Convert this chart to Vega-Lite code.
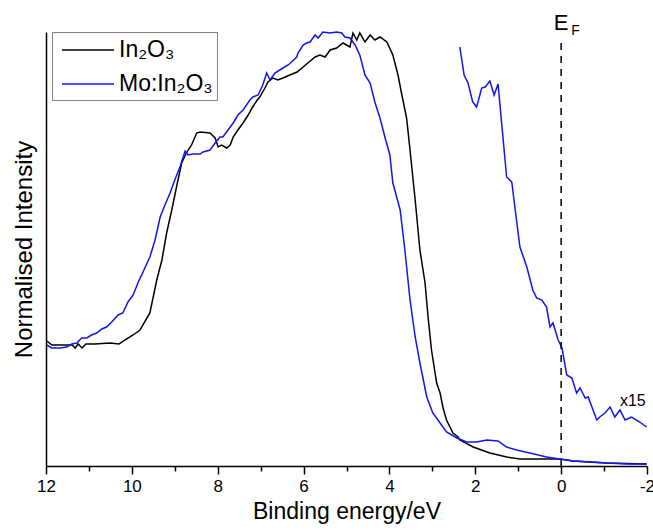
{
  "$schema": "https://vega.github.io/schema/vega-lite/v6.json",
  "width": 601,
  "height": 434,
  "autosize": {"type": "none"},
  "padding": {"left": 46, "top": 32, "right": 6, "bottom": 64},
  "background": "white",
  "config": {
    "view": {"stroke": null},
    "font": "Liberation Sans",
    "axis": {"grid": false, "labelFont": "Liberation Sans", "titleFont": "Liberation Sans", "labelColor": "black", "titleColor": "black", "titleFontWeight": "normal", "domainColor": "black", "domainWidth": 1.5, "tickColor": "black", "tickWidth": 1.5},
    "legend": {
      "orient": "none", "legendX": 6, "legendY": 0, "title": null,
      "symbolType": "M-2,0H2", "symbolSize": 676, "symbolStrokeWidth": 1.5,
      "labelFont": "Liberation Sans", "labelFontSize": 23, "labelColor": "black",
      "padding": 4, "symbolOffset": 18, "labelOffset": 17, "rowPadding": 8,
      "strokeColor": "#808080", "fillColor": "white"
    }
  },
  "datasets": {
    "spectra": [
      {"sample":"In₂O₃","trace":"main","energy":11.98,"intensity":125},
      {"sample":"In₂O₃","trace":"main","energy":11.86,"intensity":121},
      {"sample":"In₂O₃","trace":"main","energy":11.67,"intensity":121},
      {"sample":"In₂O₃","trace":"main","energy":11.39,"intensity":121},
      {"sample":"In₂O₃","trace":"main","energy":11.32,"intensity":118},
      {"sample":"In₂O₃","trace":"main","energy":11.25,"intensity":122},
      {"sample":"In₂O₃","trace":"main","energy":11.16,"intensity":118},
      {"sample":"In₂O₃","trace":"main","energy":11.07,"intensity":122},
      {"sample":"In₂O₃","trace":"main","energy":10.86,"intensity":122},
      {"sample":"In₂O₃","trace":"main","energy":10.51,"intensity":123},
      {"sample":"In₂O₃","trace":"main","energy":10.30,"intensity":122},
      {"sample":"In₂O₃","trace":"main","energy":10.16,"intensity":126},
      {"sample":"In₂O₃","trace":"main","energy":9.97,"intensity":131},
      {"sample":"In₂O₃","trace":"main","energy":9.81,"intensity":136},
      {"sample":"In₂O₃","trace":"main","energy":9.58,"intensity":153},
      {"sample":"In₂O₃","trace":"main","energy":9.42,"intensity":186},
      {"sample":"In₂O₃","trace":"main","energy":9.30,"intensity":206},
      {"sample":"In₂O₃","trace":"main","energy":9.19,"intensity":233},
      {"sample":"In₂O₃","trace":"main","energy":9.07,"intensity":256},
      {"sample":"In₂O₃","trace":"main","energy":8.96,"intensity":279},
      {"sample":"In₂O₃","trace":"main","energy":8.84,"intensity":303},
      {"sample":"In₂O₃","trace":"main","energy":8.72,"intensity":314},
      {"sample":"In₂O₃","trace":"main","energy":8.61,"intensity":321},
      {"sample":"In₂O₃","trace":"main","energy":8.49,"intensity":333},
      {"sample":"In₂O₃","trace":"main","energy":8.41,"intensity":334},
      {"sample":"In₂O₃","trace":"main","energy":8.18,"intensity":333},
      {"sample":"In₂O₃","trace":"main","energy":8.06,"intensity":328},
      {"sample":"In₂O₃","trace":"main","energy":7.99,"intensity":319},
      {"sample":"In₂O₃","trace":"main","energy":7.91,"intensity":321},
      {"sample":"In₂O₃","trace":"main","energy":7.79,"intensity":318},
      {"sample":"In₂O₃","trace":"main","energy":7.71,"intensity":321},
      {"sample":"In₂O₃","trace":"main","energy":7.64,"intensity":329},
      {"sample":"In₂O₃","trace":"main","energy":7.53,"intensity":336},
      {"sample":"In₂O₃","trace":"main","energy":7.41,"intensity":343},
      {"sample":"In₂O₃","trace":"main","energy":7.29,"intensity":351},
      {"sample":"In₂O₃","trace":"main","energy":7.20,"intensity":358},
      {"sample":"In₂O₃","trace":"main","energy":7.08,"intensity":366},
      {"sample":"In₂O₃","trace":"main","energy":7.02,"intensity":369},
      {"sample":"In₂O₃","trace":"main","energy":6.90,"intensity":378},
      {"sample":"In₂O₃","trace":"main","energy":6.83,"intensity":384},
      {"sample":"In₂O₃","trace":"main","energy":6.71,"intensity":388},
      {"sample":"In₂O₃","trace":"main","energy":6.60,"intensity":386},
      {"sample":"In₂O₃","trace":"main","energy":6.48,"intensity":388},
      {"sample":"In₂O₃","trace":"main","energy":6.32,"intensity":391},
      {"sample":"In₂O₃","trace":"main","energy":6.15,"intensity":394},
      {"sample":"In₂O₃","trace":"main","energy":6.01,"intensity":399},
      {"sample":"In₂O₃","trace":"main","energy":5.90,"intensity":403},
      {"sample":"In₂O₃","trace":"main","energy":5.73,"intensity":409},
      {"sample":"In₂O₃","trace":"main","energy":5.62,"intensity":411},
      {"sample":"In₂O₃","trace":"main","energy":5.50,"intensity":409},
      {"sample":"In₂O₃","trace":"main","energy":5.38,"intensity":416},
      {"sample":"In₂O₃","trace":"main","energy":5.23,"intensity":418},
      {"sample":"In₂O₃","trace":"main","energy":5.08,"intensity":423},
      {"sample":"In₂O₃","trace":"main","energy":4.92,"intensity":419},
      {"sample":"In₂O₃","trace":"main","energy":4.85,"intensity":433},
      {"sample":"In₂O₃","trace":"main","energy":4.76,"intensity":426},
      {"sample":"In₂O₃","trace":"main","energy":4.69,"intensity":433},
      {"sample":"In₂O₃","trace":"main","energy":4.57,"intensity":424},
      {"sample":"In₂O₃","trace":"main","energy":4.45,"intensity":431},
      {"sample":"In₂O₃","trace":"main","energy":4.34,"intensity":426},
      {"sample":"In₂O₃","trace":"main","energy":4.22,"intensity":429},
      {"sample":"In₂O₃","trace":"main","energy":4.06,"intensity":424},
      {"sample":"In₂O₃","trace":"main","energy":3.92,"intensity":411},
      {"sample":"In₂O₃","trace":"main","energy":3.80,"intensity":391},
      {"sample":"In₂O₃","trace":"main","energy":3.71,"intensity":371},
      {"sample":"In₂O₃","trace":"main","energy":3.60,"intensity":348},
      {"sample":"In₂O₃","trace":"main","energy":3.52,"intensity":316},
      {"sample":"In₂O₃","trace":"main","energy":3.40,"intensity":266},
      {"sample":"In₂O₃","trace":"main","energy":3.29,"intensity":216},
      {"sample":"In₂O₃","trace":"main","energy":3.17,"intensity":183},
      {"sample":"In₂O₃","trace":"main","energy":3.10,"intensity":149},
      {"sample":"In₂O₃","trace":"main","energy":3.02,"intensity":116},
      {"sample":"In₂O₃","trace":"main","energy":2.90,"intensity":83},
      {"sample":"In₂O₃","trace":"main","energy":2.82,"intensity":73},
      {"sample":"In₂O₃","trace":"main","energy":2.75,"intensity":58},
      {"sample":"In₂O₃","trace":"main","energy":2.67,"intensity":46},
      {"sample":"In₂O₃","trace":"main","energy":2.59,"intensity":39},
      {"sample":"In₂O₃","trace":"main","energy":2.52,"intensity":33},
      {"sample":"In₂O₃","trace":"main","energy":2.40,"intensity":29},
      {"sample":"In₂O₃","trace":"main","energy":2.36,"intensity":26},
      {"sample":"In₂O₃","trace":"main","energy":2.05,"intensity":19},
      {"sample":"In₂O₃","trace":"main","energy":1.66,"intensity":13},
      {"sample":"In₂O₃","trace":"main","energy":1.27,"intensity":9},
      {"sample":"In₂O₃","trace":"main","energy":0.96,"intensity":7},
      {"sample":"In₂O₃","trace":"main","energy":0.49,"intensity":7},
      {"sample":"In₂O₃","trace":"main","energy":0.03,"intensity":7},
      {"sample":"In₂O₃","trace":"main","energy":-0.28,"intensity":5},
      {"sample":"In₂O₃","trace":"main","energy":-1.06,"intensity":3},
      {"sample":"In₂O₃","trace":"main","energy":-1.99,"intensity":2},
      {"sample":"Mo:In₂O₃","trace":"main","energy":11.98,"intensity":121},
      {"sample":"Mo:In₂O₃","trace":"main","energy":11.87,"intensity":118},
      {"sample":"Mo:In₂O₃","trace":"main","energy":11.67,"intensity":118},
      {"sample":"Mo:In₂O₃","trace":"main","energy":11.52,"intensity":119},
      {"sample":"Mo:In₂O₃","trace":"main","energy":11.40,"intensity":122},
      {"sample":"Mo:In₂O₃","trace":"main","energy":11.28,"intensity":123},
      {"sample":"Mo:In₂O₃","trace":"main","energy":11.17,"intensity":128},
      {"sample":"Mo:In₂O₃","trace":"main","energy":11.05,"intensity":128},
      {"sample":"Mo:In₂O₃","trace":"main","energy":10.94,"intensity":131},
      {"sample":"Mo:In₂O₃","trace":"main","energy":10.82,"intensity":133},
      {"sample":"Mo:In₂O₃","trace":"main","energy":10.70,"intensity":137},
      {"sample":"Mo:In₂O₃","trace":"main","energy":10.59,"intensity":139},
      {"sample":"Mo:In₂O₃","trace":"main","energy":10.47,"intensity":144},
      {"sample":"Mo:In₂O₃","trace":"main","energy":10.32,"intensity":151},
      {"sample":"Mo:In₂O₃","trace":"main","energy":10.21,"intensity":153},
      {"sample":"Mo:In₂O₃","trace":"main","energy":10.09,"intensity":164},
      {"sample":"Mo:In₂O₃","trace":"main","energy":9.97,"intensity":171},
      {"sample":"Mo:In₂O₃","trace":"main","energy":9.86,"intensity":183},
      {"sample":"Mo:In₂O₃","trace":"main","energy":9.74,"intensity":194},
      {"sample":"Mo:In₂O₃","trace":"main","energy":9.58,"intensity":209},
      {"sample":"Mo:In₂O₃","trace":"main","energy":9.46,"intensity":226},
      {"sample":"Mo:In₂O₃","trace":"main","energy":9.34,"intensity":249},
      {"sample":"Mo:In₂O₃","trace":"main","energy":9.23,"intensity":261},
      {"sample":"Mo:In₂O₃","trace":"main","energy":9.11,"intensity":273},
      {"sample":"Mo:In₂O₃","trace":"main","energy":9.00,"intensity":286},
      {"sample":"Mo:In₂O₃","trace":"main","energy":8.88,"intensity":299},
      {"sample":"Mo:In₂O₃","trace":"main","energy":8.76,"intensity":315},
      {"sample":"Mo:In₂O₃","trace":"main","energy":8.69,"intensity":311},
      {"sample":"Mo:In₂O₃","trace":"main","energy":8.58,"intensity":312},
      {"sample":"Mo:In₂O₃","trace":"main","energy":8.41,"intensity":312},
      {"sample":"Mo:In₂O₃","trace":"main","energy":8.34,"intensity":314},
      {"sample":"Mo:In₂O₃","trace":"main","energy":8.18,"intensity":316},
      {"sample":"Mo:In₂O₃","trace":"main","energy":8.06,"intensity":323},
      {"sample":"Mo:In₂O₃","trace":"main","energy":7.95,"intensity":329},
      {"sample":"Mo:In₂O₃","trace":"main","energy":7.88,"intensity":329},
      {"sample":"Mo:In₂O₃","trace":"main","energy":7.76,"intensity":336},
      {"sample":"Mo:In₂O₃","trace":"main","energy":7.64,"intensity":343},
      {"sample":"Mo:In₂O₃","trace":"main","energy":7.53,"intensity":351},
      {"sample":"Mo:In₂O₃","trace":"main","energy":7.41,"intensity":356},
      {"sample":"Mo:In₂O₃","trace":"main","energy":7.25,"intensity":366},
      {"sample":"Mo:In₂O₃","trace":"main","energy":7.18,"intensity":369},
      {"sample":"Mo:In₂O₃","trace":"main","energy":7.06,"intensity":371},
      {"sample":"Mo:In₂O₃","trace":"main","energy":6.95,"intensity":381},
      {"sample":"Mo:In₂O₃","trace":"main","energy":6.86,"intensity":393},
      {"sample":"Mo:In₂O₃","trace":"main","energy":6.78,"intensity":386},
      {"sample":"Mo:In₂O₃","trace":"main","energy":6.67,"intensity":393},
      {"sample":"Mo:In₂O₃","trace":"main","energy":6.48,"intensity":398},
      {"sample":"Mo:In₂O₃","trace":"main","energy":6.36,"intensity":401},
      {"sample":"Mo:In₂O₃","trace":"main","energy":6.28,"intensity":404},
      {"sample":"Mo:In₂O₃","trace":"main","energy":6.16,"intensity":409},
      {"sample":"Mo:In₂O₃","trace":"main","energy":6.13,"intensity":413},
      {"sample":"Mo:In₂O₃","trace":"main","energy":6.01,"intensity":421},
      {"sample":"Mo:In₂O₃","trace":"main","energy":5.93,"intensity":423},
      {"sample":"Mo:In₂O₃","trace":"main","energy":5.85,"intensity":424},
      {"sample":"Mo:In₂O₃","trace":"main","energy":5.73,"intensity":431},
      {"sample":"Mo:In₂O₃","trace":"main","energy":5.66,"intensity":428},
      {"sample":"Mo:In₂O₃","trace":"main","energy":5.55,"intensity":434},
      {"sample":"Mo:In₂O₃","trace":"main","energy":5.38,"intensity":433},
      {"sample":"Mo:In₂O₃","trace":"main","energy":5.23,"intensity":434},
      {"sample":"Mo:In₂O₃","trace":"main","energy":5.11,"intensity":433},
      {"sample":"Mo:In₂O₃","trace":"main","energy":5.04,"intensity":429},
      {"sample":"Mo:In₂O₃","trace":"main","energy":4.92,"intensity":428},
      {"sample":"Mo:In₂O₃","trace":"main","energy":4.80,"intensity":421},
      {"sample":"Mo:In₂O₃","trace":"main","energy":4.69,"intensity":411},
      {"sample":"Mo:In₂O₃","trace":"main","energy":4.57,"intensity":391},
      {"sample":"Mo:In₂O₃","trace":"main","energy":4.45,"intensity":383},
      {"sample":"Mo:In₂O₃","trace":"main","energy":4.34,"intensity":364},
      {"sample":"Mo:In₂O₃","trace":"main","energy":4.22,"intensity":348},
      {"sample":"Mo:In₂O₃","trace":"main","energy":4.10,"intensity":328},
      {"sample":"Mo:In₂O₃","trace":"main","energy":3.99,"intensity":311},
      {"sample":"Mo:In₂O₃","trace":"main","energy":3.92,"intensity":283},
      {"sample":"Mo:In₂O₃","trace":"main","energy":3.75,"intensity":256},
      {"sample":"Mo:In₂O₃","trace":"main","energy":3.64,"intensity":216},
      {"sample":"Mo:In₂O₃","trace":"main","energy":3.52,"intensity":166},
      {"sample":"Mo:In₂O₃","trace":"main","energy":3.40,"intensity":129},
      {"sample":"Mo:In₂O₃","trace":"main","energy":3.29,"intensity":103},
      {"sample":"Mo:In₂O₃","trace":"main","energy":3.13,"intensity":69},
      {"sample":"Mo:In₂O₃","trace":"main","energy":2.99,"intensity":53},
      {"sample":"Mo:In₂O₃","trace":"main","energy":2.82,"intensity":43},
      {"sample":"Mo:In₂O₃","trace":"main","energy":2.67,"intensity":34},
      {"sample":"Mo:In₂O₃","trace":"main","energy":2.43,"intensity":28},
      {"sample":"Mo:In₂O₃","trace":"main","energy":2.20,"intensity":24},
      {"sample":"Mo:In₂O₃","trace":"main","energy":1.97,"intensity":24},
      {"sample":"Mo:In₂O₃","trace":"main","energy":1.73,"intensity":26},
      {"sample":"Mo:In₂O₃","trace":"main","energy":1.47,"intensity":25},
      {"sample":"Mo:In₂O₃","trace":"main","energy":1.27,"intensity":19},
      {"sample":"Mo:In₂O₃","trace":"main","energy":1.04,"intensity":16},
      {"sample":"Mo:In₂O₃","trace":"main","energy":0.73,"intensity":13},
      {"sample":"Mo:In₂O₃","trace":"main","energy":0.34,"intensity":9},
      {"sample":"Mo:In₂O₃","trace":"main","energy":0.03,"intensity":7},
      {"sample":"Mo:In₂O₃","trace":"main","energy":-0.28,"intensity":5},
      {"sample":"Mo:In₂O₃","trace":"main","energy":-0.67,"intensity":4},
      {"sample":"Mo:In₂O₃","trace":"main","energy":-1.06,"intensity":3},
      {"sample":"Mo:In₂O₃","trace":"main","energy":-1.53,"intensity":2},
      {"sample":"Mo:In₂O₃","trace":"main","energy":-1.99,"intensity":2},
      {"sample":"Mo:In₂O₃","trace":"x15","energy":2.36,"intensity":419},
      {"sample":"Mo:In₂O₃","trace":"x15","energy":2.26,"intensity":391},
      {"sample":"Mo:In₂O₃","trace":"x15","energy":2.17,"intensity":383},
      {"sample":"Mo:In₂O₃","trace":"x15","energy":2.06,"intensity":364},
      {"sample":"Mo:In₂O₃","trace":"x15","energy":1.97,"intensity":359},
      {"sample":"Mo:In₂O₃","trace":"x15","energy":1.85,"intensity":378},
      {"sample":"Mo:In₂O₃","trace":"x15","energy":1.77,"intensity":379},
      {"sample":"Mo:In₂O₃","trace":"x15","energy":1.66,"intensity":385},
      {"sample":"Mo:In₂O₃","trace":"x15","energy":1.56,"intensity":371},
      {"sample":"Mo:In₂O₃","trace":"x15","energy":1.47,"intensity":382},
      {"sample":"Mo:In₂O₃","trace":"x15","energy":1.27,"intensity":289},
      {"sample":"Mo:In₂O₃","trace":"x15","energy":1.15,"intensity":284},
      {"sample":"Mo:In₂O₃","trace":"x15","energy":1.04,"intensity":246},
      {"sample":"Mo:In₂O₃","trace":"x15","energy":0.96,"intensity":219},
      {"sample":"Mo:In₂O₃","trace":"x15","energy":0.80,"intensity":199},
      {"sample":"Mo:In₂O₃","trace":"x15","energy":0.66,"intensity":176},
      {"sample":"Mo:In₂O₃","trace":"x15","energy":0.57,"intensity":168},
      {"sample":"Mo:In₂O₃","trace":"x15","energy":0.45,"intensity":166},
      {"sample":"Mo:In₂O₃","trace":"x15","energy":0.34,"intensity":159},
      {"sample":"Mo:In₂O₃","trace":"x15","energy":0.26,"intensity":139},
      {"sample":"Mo:In₂O₃","trace":"x15","energy":0.19,"intensity":143},
      {"sample":"Mo:In₂O₃","trace":"x15","energy":0.07,"intensity":126},
      {"sample":"Mo:In₂O₃","trace":"x15","energy":-0.02,"intensity":118},
      {"sample":"Mo:In₂O₃","trace":"x15","energy":-0.13,"intensity":91},
      {"sample":"Mo:In₂O₃","trace":"x15","energy":-0.25,"intensity":88},
      {"sample":"Mo:In₂O₃","trace":"x15","energy":-0.36,"intensity":73},
      {"sample":"Mo:In₂O₃","trace":"x15","energy":-0.44,"intensity":78},
      {"sample":"Mo:In₂O₃","trace":"x15","energy":-0.56,"intensity":68},
      {"sample":"Mo:In₂O₃","trace":"x15","energy":-0.63,"intensity":69},
      {"sample":"Mo:In₂O₃","trace":"x15","energy":-0.83,"intensity":46},
      {"sample":"Mo:In₂O₃","trace":"x15","energy":-0.90,"intensity":49},
      {"sample":"Mo:In₂O₃","trace":"x15","energy":-1.02,"intensity":53},
      {"sample":"Mo:In₂O₃","trace":"x15","energy":-1.14,"intensity":59},
      {"sample":"Mo:In₂O₃","trace":"x15","energy":-1.25,"intensity":49},
      {"sample":"Mo:In₂O₃","trace":"x15","energy":-1.37,"intensity":56},
      {"sample":"Mo:In₂O₃","trace":"x15","energy":-1.49,"intensity":46},
      {"sample":"Mo:In₂O₃","trace":"x15","energy":-1.64,"intensity":49},
      {"sample":"Mo:In₂O₃","trace":"x15","energy":-1.83,"intensity":44},
      {"sample":"Mo:In₂O₃","trace":"x15","energy":-1.99,"intensity":39}
    ]
  },
  "layer": [
    {
      "data": {"name": "spectra"},
      "mark": {"type": "line", "strokeWidth": 1.5},
      "encoding": {
        "x": {
          "field": "energy", "type": "quantitative",
          "scale": {"domain": [-2, 12], "reverse": true, "nice": false, "zero": false},
          "axis": {
            "title": "Binding energy/eV", "titleFontSize": 23, "titlePadding": 6,
            "values": [-2, -1, 0, 1, 2, 3, 4, 5, 6, 7, 8, 9, 10, 11, 12],
            "labelExpr": "datum.value % 2 === 0 ? '' + datum.value : ''",
            "labelFontSize": 17, "labelPadding": 4, "labelOverlap": false, "labelFlush": false,
            "tickSize": {"condition": {"test": "datum.value % 2 !== 0", "value": 5}, "value": 8}
          }
        },
        "y": {
          "field": "intensity", "type": "quantitative",
          "scale": {"domain": [0, 434], "nice": false},
          "axis": {"title": "Normalised Intensity", "titleFontSize": 24, "titlePadding": 10, "ticks": false, "labels": false}
        },
        "color": {
          "field": "sample", "type": "nominal",
          "scale": {"domain": ["In₂O₃", "Mo:In₂O₃"], "range": ["#000000", "#1414ee"]}
        },
        "detail": {"field": "trace"}
      }
    },
    {
      "data": {"values": [{"label": "EF"}]},
      "mark": {"type": "rule", "color": "black", "strokeWidth": 1.5, "strokeDash": [7, 6]},
      "encoding": {"x": {"datum": 0}, "y": {"datum": 0}, "y2": {"datum": 426}}
    },
    {
      "data": {"values": [{"label": "E"}]},
      "mark": {"type": "text", "fontSize": 22, "align": "center", "baseline": "alphabetic", "color": "black", "font": "Liberation Sans"},
      "encoding": {"x": {"datum": 0}, "y": {"datum": 436}, "text": {"field": "label"}}
    },
    {
      "data": {"values": [{"label": "F"}]},
      "mark": {"type": "text", "fontSize": 14, "align": "left", "baseline": "alphabetic", "dx": 10, "color": "black", "font": "Liberation Sans"},
      "encoding": {"x": {"datum": 0}, "y": {"datum": 431}, "text": {"field": "label"}}
    },
    {
      "data": {"values": [{"label": "x15"}]},
      "mark": {"type": "text", "fontSize": 16, "align": "center", "baseline": "alphabetic", "color": "black", "font": "Liberation Sans"},
      "encoding": {"x": {"datum": -1.67}, "y": {"datum": 60}, "text": {"field": "label"}}
    }
  ]
}
